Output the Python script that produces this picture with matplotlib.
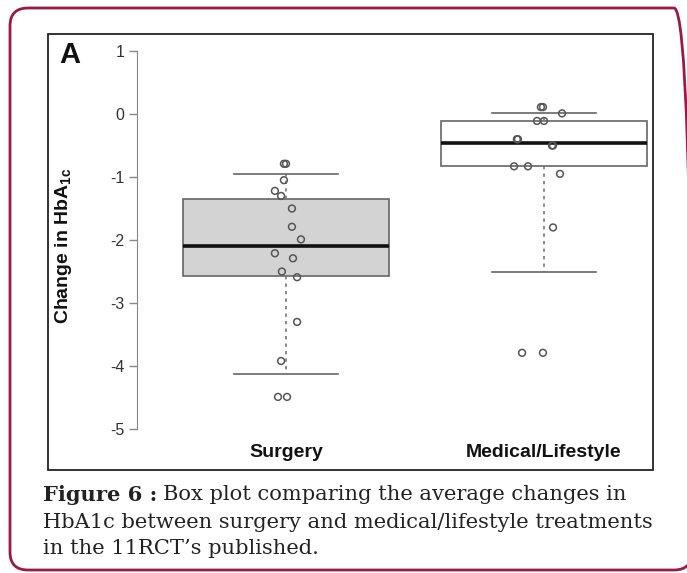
import matplotlib
matplotlib.use("Agg")
import matplotlib.pyplot as plt
from matplotlib.patches import FancyBboxPatch, Rectangle
from matplotlib.transforms import IdentityTransform

plt.rcParams["font.family"] = ["Liberation Sans", "DejaVu Sans"]
plt.rcParams["mathtext.fontset"] = "custom"
plt.rcParams["mathtext.rm"] = "Liberation Sans"
plt.rcParams["mathtext.bf"] = "Liberation Sans:bold"

# group labels
groups = ["Surgery", "Medical/Lifestyle"]

# box summaries
medians = [-2.10, -0.46]
q1 = [-2.57, -0.83]
q3 = [-1.35, -0.11]
whisker_lo = [-4.13, -2.50]
whisker_hi = [-0.95, 0.02]
box_fill = ["#d3d3d3", "white"]

# individual study points (value, horizontal jitter)
surgery_y = [-0.79, -0.79, -1.05, -1.22, -1.30, -1.50, -1.79, -1.99,
             -2.21, -2.29, -2.50, -2.59, -3.30, -3.92, -4.49, -4.49]
surgery_jit = [-0.008, 0.000, -0.008, -0.043, -0.019, 0.023, 0.023, 0.058,
               -0.043, 0.027, -0.016, 0.043, 0.043, -0.019, -0.031, 0.004]
medical_y = [0.11, 0.11, 0.01, -0.11, -0.11, -0.40, -0.40, -0.50, -0.50,
             -0.83, -0.83, -0.95, -1.80, -3.79, -3.79]
medical_jit = [-0.012, -0.004, 0.070, -0.027, 0.000, -0.105, -0.101, 0.031,
               0.035, -0.116, -0.062, 0.062, 0.035, -0.085, -0.004]

y_ticks = [1, 0, -1, -2, -3, -4, -5]

fig = plt.figure(figsize=(6.87, 5.73), dpi=100)
ax = fig.add_axes([48 / 687, 103 / 573, 605 / 687, 436 / 573])

stats = []
for i, g in enumerate(groups):
    stats.append(dict(label=g, med=medians[i], q1=q1[i], q3=q3[i],
                      whislo=whisker_lo[i], whishi=whisker_hi[i], fliers=[]))

bp = ax.bxp(stats, positions=[1, 2], widths=0.8, capwidths=0.4,
            patch_artist=True, showfliers=False,
            boxprops=dict(edgecolor="#666666", linewidth=1.2),
            whiskerprops=dict(color="#777777", linewidth=1.2, linestyle=(0, (2, 2.5))),
            capprops=dict(color="#666666", linewidth=1.2),
            medianprops=dict(color="#111111", linewidth=2.6))
for patch, c in zip(bp["boxes"], box_fill):
    patch.set_facecolor(c)

ax.scatter([1 + j for j in surgery_jit], surgery_y, s=24, facecolors="none",
           edgecolors="#555555", linewidths=1.1, zorder=5)
ax.scatter([2 + j for j in medical_jit], medical_y, s=24, facecolors="none",
           edgecolors="#555555", linewidths=1.1, zorder=5)

ax.set_xlim(0.0775, 2.4225)
ax.set_ylim(-5.65, 1.27)

# R style axis: only the left axis, spanning the tick range
for side in ["top", "right", "bottom"]:
    ax.spines[side].set_visible(False)
ax.spines["left"].set_position(("data", 0.4225))
ax.spines["left"].set_bounds(-5, 1)
ax.spines["left"].set_color("#888888")
ax.set_yticks(y_ticks)
ax.set_yticklabels([str(t) if t >= 0 else "-" + str(-t) for t in y_ticks])
ax.tick_params(axis="y", length=6, width=1, color="#888888", labelcolor="#333333",
               labelsize=11.5, pad=3)
ax.set_xticks([])
ax.patch.set_visible(False)

# black frame around the panel
ax.add_patch(Rectangle((0, 0), 1, 1, transform=ax.transAxes, fill=False,
                       edgecolor="#222222", linewidth=1.3, clip_on=False))

for i, g in enumerate(groups):
    ax.text(i + 1, -5.38, g, ha="center", va="center", fontsize=14,
            fontweight="bold", color="#111111")

ax.text(0.018, 0.985, "A", transform=ax.transAxes, ha="left", va="top",
        fontsize=21, fontweight="bold", color="#111111")

fig.text(63 / 687, 1 - 246 / 573, r"Change in HbA$_{\mathbf{1c}}$", rotation=90,
         ha="center", va="center", fontsize=14, fontweight="bold", color="#111111")

# caption
cap_font = "DejaVu Serif"
cap_fs = 15.1
t1 = fig.text(43 / 687, 1 - 495 / 573, "Figure 6 :", fontsize=cap_fs, fontweight="bold",
              family=cap_font, va="center", color="#222222")
fig.canvas.draw()
bb = t1.get_window_extent()
fig.text((bb.x1 + 6) / 687, 1 - 495 / 573, "Box plot comparing the average changes in",
         fontsize=cap_fs, family=cap_font, va="center", color="#222222")
fig.text(43 / 687, 1 - 522 / 573, "HbA1c between surgery and medical/lifestyle treatments",
         fontsize=cap_fs, family=cap_font, va="center", color="#222222")
fig.text(43 / 687, 1 - 549 / 573, "in the 11RCT\u2019s published.",
         fontsize=cap_fs, family=cap_font, va="center", color="#222222")

# rounded maroon border
fig.patches.append(FancyBboxPatch((10, 3), 682, 562, boxstyle="round,pad=0,rounding_size=18",
                                  transform=IdentityTransform(), fill=False,
                                  edgecolor="#9b1a45", linewidth=2))

fig.savefig("out.png", dpi=100)
